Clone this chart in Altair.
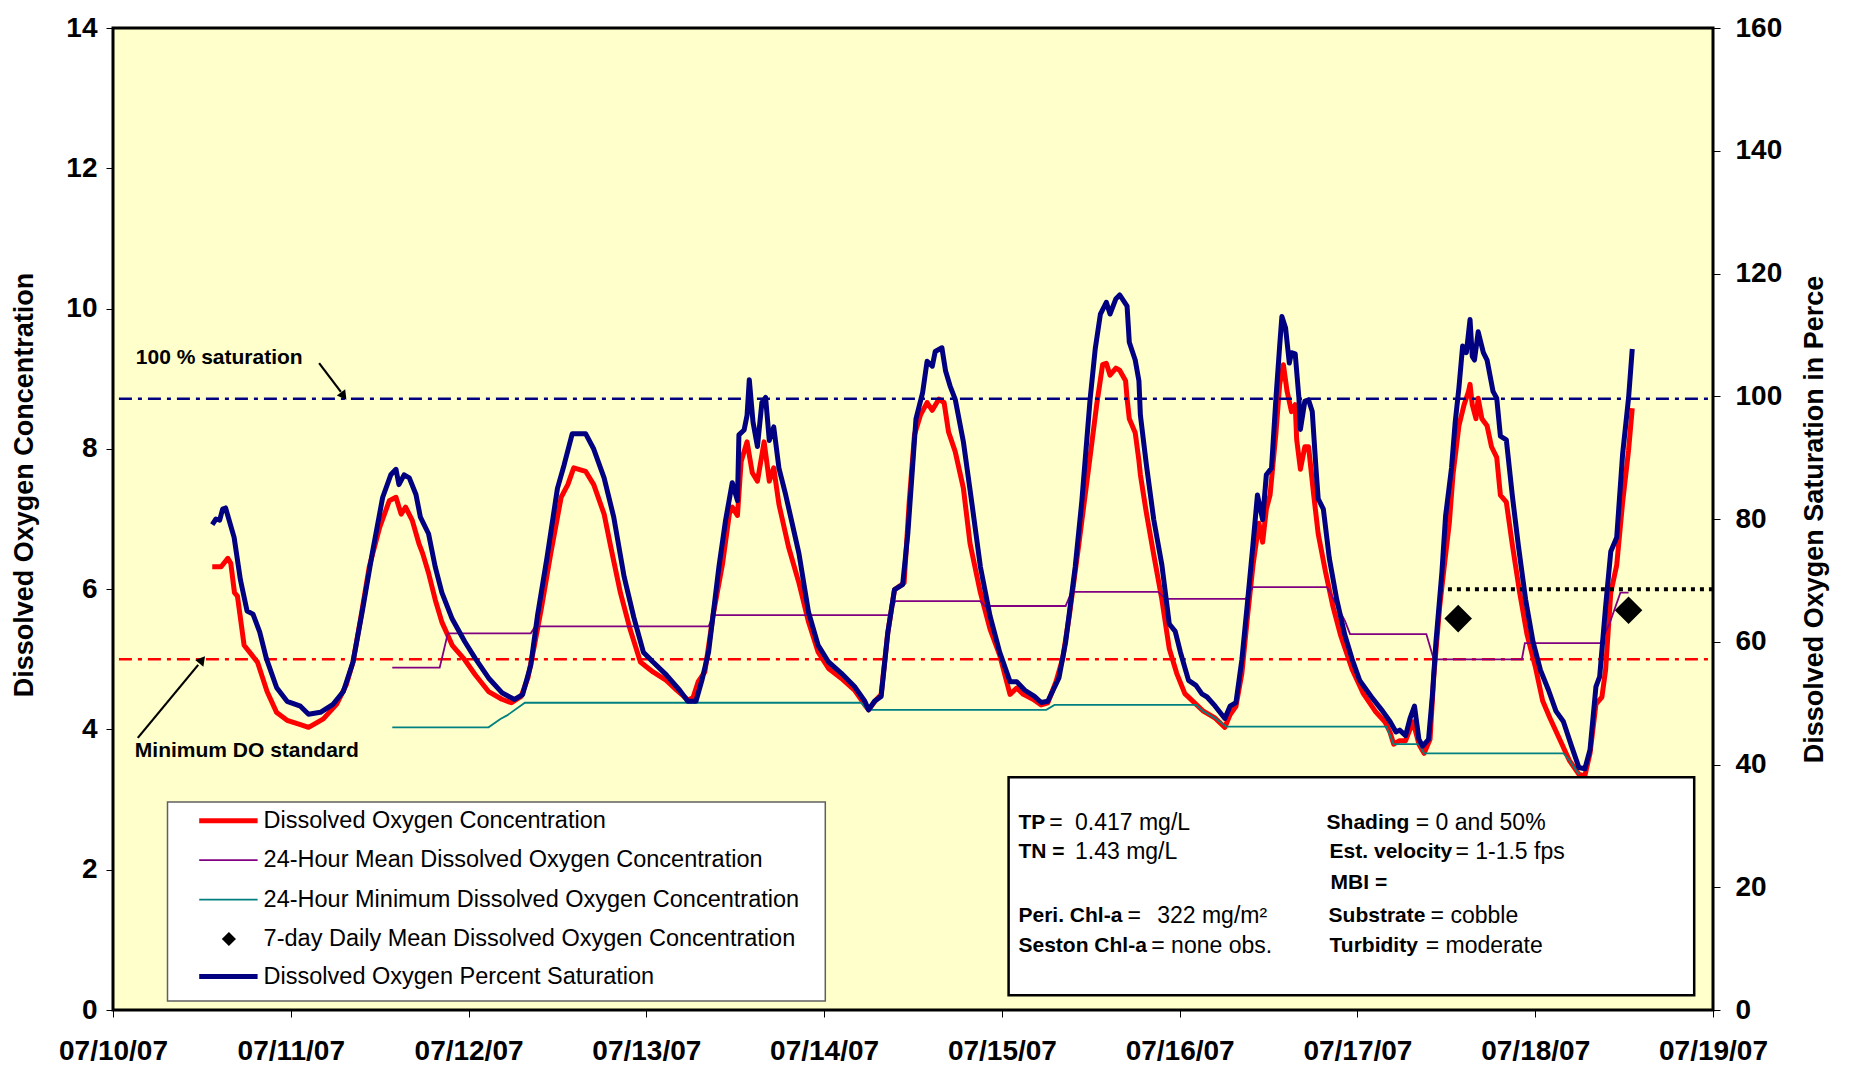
import altair as alt
import pandas as pd

# ---------------- data ----------------
# (hours after 07/10/07 00:00, dissolved oxygen mg/L)
do_conc = [
    (13.4, 6.32), (14.6, 6.32), (15.5, 6.44), (15.9, 6.37), (16.4, 5.95), (16.8, 5.9),
    (17.7, 5.2), (18.6, 5.08), (19.5, 4.96), (20.8, 4.54), (22.1, 4.24), (23.5, 4.13),
    (25.3, 4.07), (26.4, 4.03), (28.4, 4.15), (30.2, 4.36), (31.5, 4.64), (32.4, 4.96),
    (33.5, 5.62), (34.6, 6.32), (36.0, 6.88), (37.3, 7.26), (38.2, 7.31), (38.9, 7.07),
    (39.5, 7.17), (40.4, 6.98), (41.3, 6.65), (41.8, 6.51), (42.6, 6.23), (43.5, 5.85),
    (44.4, 5.53), (45.8, 5.2), (47.5, 4.99), (48.9, 4.78), (50.7, 4.54), (52.5, 4.43),
    (53.8, 4.38), (55.1, 4.47), (56.0, 4.73), (56.9, 5.2), (57.8, 5.71), (59.1, 6.51),
    (60.5, 7.31), (61.4, 7.49), (62.2, 7.73), (63.8, 7.68), (64.9, 7.49), (66.3, 7.07),
    (67.2, 6.6), (68.5, 5.95), (69.8, 5.43), (71.2, 4.96), (72.9, 4.82), (74.7, 4.70),
    (76.1, 4.56), (77.6, 4.42), (78.3, 4.45), (79.0, 4.68), (79.9, 4.82), (81.0, 5.62),
    (82.3, 6.37), (83.2, 7.07), (83.6, 7.17), (84.3, 7.05), (84.8, 7.82), (85.6, 8.1),
    (86.3, 7.66), (87.0, 7.54), (87.9, 8.1), (88.6, 7.54), (89.2, 7.73), (89.9, 7.21),
    (91.2, 6.6), (92.6, 6.09), (93.9, 5.53), (95.2, 5.1), (96.6, 4.87), (98.3, 4.73),
    (100.1, 4.56), (101.5, 4.35), (102.0, 4.28), (103.0, 4.42), (103.7, 4.5), (104.6, 5.38),
    (105.5, 5.99), (106.8, 6.09), (107.5, 7.26), (108.2, 8.2), (109.0, 8.48), (109.9, 8.66),
    (110.6, 8.55), (111.5, 8.71), (112.2, 8.66), (112.8, 8.24), (113.7, 7.96), (114.8, 7.44),
    (115.7, 6.65), (117.1, 5.95), (118.4, 5.43), (119.7, 5.06), (121.1, 4.5), (122.0, 4.59),
    (122.9, 4.5), (124.2, 4.43), (125.3, 4.35), (126.2, 4.38), (127.3, 4.68), (128.2, 5.01),
    (129.1, 5.62), (130.4, 6.65), (131.8, 7.8), (132.8, 8.63), (133.6, 9.2), (134.1, 9.22),
    (134.6, 9.05), (135.4, 9.15), (135.9, 9.12), (136.7, 8.97), (136.9, 8.72), (137.2, 8.43),
    (138.0, 8.23), (138.5, 7.83), (138.7, 7.63), (139.5, 7.09), (140.5, 6.49), (141.6, 5.85),
    (142.6, 5.15), (143.6, 4.8), (144.7, 4.51), (145.7, 4.41), (147.2, 4.26), (148.8, 4.16),
    (150.1, 4.03), (150.8, 4.21), (151.6, 4.33), (152.4, 4.8), (153.1, 5.55), (153.9, 6.34),
    (154.7, 6.94), (155.2, 6.67), (155.7, 7.14), (156.2, 7.34), (157.0, 8.23), (157.5, 8.92),
    (158.0, 9.2), (158.5, 8.82), (159.1, 8.53), (159.6, 8.63), (159.8, 8.13), (160.3, 7.71),
    (160.9, 8.03), (161.4, 8.03), (162.1, 7.34), (162.7, 6.79), (163.7, 6.24), (164.7, 5.75),
    (165.7, 5.35), (167.3, 4.85), (168.8, 4.51), (170.4, 4.26), (171.7, 4.11), (172.4, 3.96),
    (172.9, 3.79), (173.7, 3.84), (174.5, 3.84), (175.5, 4.11), (176.3, 3.79), (177.0, 3.66),
    (177.8, 3.86), (178.3, 4.75), (179.1, 5.75), (179.9, 6.49), (180.4, 6.94), (180.9, 7.63),
    (181.7, 8.33), (182.4, 8.63), (183.0, 8.82), (183.2, 8.92), (183.5, 8.63), (184.0, 8.43),
    (184.3, 8.72), (184.8, 8.43), (185.5, 8.33), (186.1, 8.03), (186.8, 7.88), (187.3, 7.34),
    (188.1, 7.24), (188.9, 6.64), (189.9, 5.95), (190.9, 5.35), (192.0, 4.9), (193.0, 4.41),
    (194.0, 4.16), (195.3, 3.86), (196.6, 3.56), (197.9, 3.36), (198.7, 3.34), (199.4, 3.66),
    (200.2, 4.36), (201.0, 4.46), (201.5, 4.85), (202.2, 5.95), (203.0, 6.34), (203.8, 7.24),
    (204.6, 7.98), (205.1, 8.58),
]

# (hours, dissolved oxygen percent saturation)
do_sat = [
    (13.4, 79.1), (13.9, 80.0), (14.4, 79.8), (14.8, 81.6), (15.2, 81.8), (16.35, 77.0),
    (17.2, 70.1), (18.1, 65.0), (18.9, 64.5), (19.8, 61.6), (20.7, 57.3), (22.1, 52.5),
    (23.5, 50.3), (25.3, 49.5), (26.4, 48.2), (28.0, 48.5), (29.7, 49.8), (31.1, 51.9),
    (32.4, 56.7), (33.7, 65.3), (35.0, 74.4), (36.4, 83.5), (37.5, 87.2), (38.2, 88.1),
    (38.6, 85.6), (39.3, 87.2), (40.0, 86.7), (40.9, 84.0), (41.5, 80.3), (42.6, 77.6),
    (43.5, 72.2), (44.4, 68.0), (45.8, 63.7), (47.5, 60.0), (48.9, 57.3), (50.7, 54.1),
    (52.5, 51.7), (54.2, 50.6), (55.3, 51.4), (56.4, 56.2), (57.3, 64.2), (58.6, 73.8),
    (60.0, 85.0), (60.9, 88.8), (62.0, 93.9), (63.8, 93.9), (64.9, 91.4), (66.3, 86.7),
    (67.6, 80.3), (69.0, 70.6), (70.3, 64.0), (71.6, 58.3), (72.9, 56.7), (74.7, 54.6),
    (76.5, 52.1), (77.6, 50.3), (78.7, 50.3), (79.5, 53.7), (80.4, 58.3), (81.8, 72.2),
    (82.7, 79.8), (83.6, 85.9), (84.3, 83.0), (84.5, 93.7), (85.2, 94.5), (85.6, 96.9),
    (85.9, 102.7), (86.4, 95.8), (87.0, 91.8), (87.6, 99.0), (88.1, 99.8), (88.6, 92.8),
    (89.2, 95.0), (89.9, 88.3), (90.8, 84.0), (91.7, 79.2), (92.6, 74.4), (93.9, 64.8),
    (95.2, 59.4), (96.6, 56.7), (98.3, 54.9), (100.1, 52.7), (101.5, 50.3), (102.0, 48.9),
    (102.8, 50.3), (103.7, 51.1), (104.6, 61.5), (105.5, 68.5), (106.6, 69.3), (107.3, 77.6),
    (108.4, 96.3), (109.3, 100.6), (109.9, 105.7), (110.6, 104.9), (111.0, 107.3), (111.9, 107.9),
    (112.4, 104.1), (113.0, 101.7), (113.7, 99.5), (114.8, 92.6), (115.9, 83.0), (117.1, 72.2),
    (118.4, 64.2), (119.7, 58.3), (121.1, 53.5), (122.0, 53.5), (123.1, 52.1), (124.4, 51.1),
    (125.3, 50.1), (126.2, 50.3), (127.7, 54.1), (128.6, 59.9), (129.9, 72.2), (130.8, 83.0),
    (131.9, 99.4), (132.6, 107.7), (133.3, 113.4), (134.1, 115.3), (134.6, 113.4), (135.4, 115.9),
    (135.9, 116.5), (136.9, 114.7), (137.2, 108.8), (138.0, 105.9), (138.5, 102.5), (138.7, 96.9),
    (139.5, 88.9), (140.5, 79.9), (141.6, 72.5), (142.6, 62.9), (143.4, 61.7), (144.1, 58.3),
    (145.2, 53.7), (146.2, 52.9), (147.0, 51.5), (147.7, 51.0), (148.8, 49.5), (150.1, 47.5),
    (150.8, 49.5), (151.6, 50.1), (152.4, 57.1), (153.1, 65.7), (153.9, 75.9), (154.5, 83.9),
    (155.2, 79.9), (155.7, 87.2), (156.4, 88.3), (157.0, 99.7), (157.5, 108.2), (157.8, 113.0),
    (158.3, 111.1), (158.8, 105.4), (159.1, 107.1), (159.6, 106.9), (160.1, 99.7), (160.3, 94.6),
    (160.9, 99.2), (161.4, 99.4), (161.9, 97.5), (162.4, 88.3), (162.7, 83.3), (163.4, 81.6),
    (164.2, 73.6), (165.2, 66.9), (166.3, 61.1), (167.3, 57.1), (168.3, 53.7), (169.9, 51.0),
    (171.4, 48.7), (172.4, 47.0), (173.2, 45.3), (173.7, 45.6), (174.5, 44.7), (175.1, 47.5),
    (175.7, 49.5), (176.3, 44.1), (176.8, 43.0), (177.6, 44.1), (178.1, 51.0), (178.6, 60.0),
    (179.4, 71.3), (179.9, 80.5), (180.7, 88.3), (181.2, 95.8), (181.7, 101.4), (182.2, 108.2),
    (182.7, 107.1), (183.2, 112.5), (183.5, 106.5), (183.8, 105.9), (184.3, 110.5), (185.0, 107.1),
    (185.5, 105.9), (186.3, 100.8), (186.8, 99.7), (187.3, 93.5), (188.1, 92.9), (188.9, 83.9),
    (189.7, 75.9), (190.7, 66.9), (191.7, 60.0), (192.7, 55.4), (193.8, 52.1), (194.8, 48.7),
    (195.8, 47.0), (196.9, 43.0), (197.9, 39.5), (198.7, 39.3), (199.4, 42.4), (200.2, 52.7),
    (200.7, 54.3), (201.5, 65.7), (202.2, 74.7), (203.0, 77.0), (203.8, 90.6), (204.6, 99.7),
    (205.1, 107.7),
]

# 24-hour mean DO (mg/L)
mean_24h = [
    (37.7, 4.88), (44.1, 4.88), (44.6, 5.1), (45.2, 5.37), (56.4, 5.37), (57.0, 5.47),
    (80.4, 5.47), (81.1, 5.63), (104.8, 5.63), (105.6, 5.83), (117.1, 5.83), (117.7, 5.76),
    (128.6, 5.76), (129.4, 5.96), (141.1, 5.96), (142.1, 5.86), (152.9, 5.86), (153.9, 6.03),
    (163.9, 6.03), (166.3, 5.55), (167.0, 5.36), (177.3, 5.36), (178.3, 5.0), (190.2, 5.0),
    (190.6, 5.23), (200.8, 5.23), (202.0, 5.5), (203.5, 5.95), (204.6, 5.95),
]

# 24-hour minimum DO (mg/L)
min_24h = [
    (37.7, 4.03), (50.7, 4.03), (52.3, 4.15), (53.2, 4.2), (55.6, 4.38), (101.0, 4.38),
    (101.8, 4.28), (126.0, 4.28), (127.1, 4.35), (146.2, 4.35), (147.2, 4.26), (148.8, 4.16),
    (150.3, 4.04), (171.9, 4.04), (172.9, 3.79), (176.3, 3.79), (177.0, 3.66), (195.8, 3.66),
    (196.6, 3.56), (197.9, 3.36),
]

# 7-day daily mean DO (mg/L)
weekly_mean = [(181.6, 5.58), (204.6, 5.70)]
weekly_ref = [(179.0, 216.0, 6.0)]          # dotted level line
standard_line = [(0.8, 216.0, 5.0)]         # minimum DO standard (mg/L)
saturation_line = [(0.8, 216.0, 99.6)]      # 100 % saturation

day_ticks = list(range(10, 20))
left_ticks = list(range(0, 15, 2))
right_ticks = list(range(0, 161, 20))

legend_labels = [
    "Dissolved Oxygen Concentration",
    "24-Hour Mean Dissolved Oxygen Concentration",
    "24-Hour Minimum Dissolved Oxygen Concentration",
    "7-day Daily Mean Dissolved Oxygen Concentration",
    "Dissolved Oxygen Percent Saturation",
]

# ---------------- helpers ----------------
BASE = pd.Timestamp("2007-07-10")


def ts(h):
    return (BASE + pd.Timedelta(hours=h)).strftime("%Y-%m-%dT%H:%M:%S")


def series_df(pairs):
    return pd.DataFrame({"t": [ts(h) for h, _ in pairs], "v": [v for _, v in pairs]})


def span_df(rows):
    return pd.DataFrame({"t": [ts(a) for a, _, _ in rows],
                         "t2": [ts(b) for _, b, _ in rows],
                         "v": [v for _, _, v in rows]})


FONT = "Liberation Sans, Arial, Helvetica, sans-serif"
RED, NAVY, PURPLE, TEAL = "#FF0000", "#000080", "#800080", "#008080"

W, H = 1600, 982
OX, OY, OW, OH = 116, 20, 1615, 996   # plot area in the reference picture


def sx(ox):
    return round((ox - OX) * W / OW, 1)


def sy(oy):
    return round((oy - OY) * H / OH, 1)


ONE = pd.DataFrame({"a": [0]})

xscale = alt.Scale(domain=[alt.DateTime(year=2007, month=7, date=10),
                           alt.DateTime(year=2007, month=7, date=19)])
xaxis = alt.Axis(values=[alt.DateTime(year=2007, month=7, date=d) for d in day_ticks],
                 format="%m/%d/%y", title=None, labelFont=FONT, labelFontSize=28,
                 labelFontWeight="bold", labelColor="black", tickColor="black",
                 tickSize=7, tickWidth=1, labelPadding=20, domain=False, grid=False,
                 labelFlush=False, labelOverlap=False)
X = alt.X("t:T", scale=xscale, axis=xaxis)

yl_scale = alt.Scale(domain=[0, 14], nice=False, zero=True)
yl_axis = alt.Axis(values=left_ticks, orient="left", title="Dissolved Oxygen Concentration",
                   titleFont=FONT, titleFontSize=27, titleFontWeight="bold", titleColor="black",
                   titlePadding=27, titleY=sy(483), labelFont=FONT, labelFontSize=28,
                   labelFontWeight="bold", labelColor="black", labelPadding=9, tickSize=7,
                   tickColor="black", domain=False, grid=False)
YL = alt.Y("v:Q", scale=yl_scale, axis=yl_axis)

yr_scale = alt.Scale(domain=[0, 160], nice=False, zero=True)
yr_axis = alt.Axis(values=right_ticks, orient="right",
                   title="Dissolved Oxygen Saturation in Perce",
                   titleFont=FONT, titleFontSize=27, titleFontWeight="bold", titleColor="black",
                   titleAngle=270, titleBaseline="top", titlePadding=20,
                   labelFont=FONT, labelFontSize=28, labelFontWeight="bold", labelColor="black",
                   labelPadding=15, tickSize=7, tickColor="black", domain=False, grid=False)
YR = alt.Y("v:Q", scale=yr_scale, axis=yr_axis)

DASHDOT = [13, 6, 4, 6]

# ---------------- left-axis layers ----------------
std_rule = alt.Chart(span_df(standard_line)).mark_rule(
    color=RED, strokeWidth=2.5, strokeDash=DASHDOT).encode(x=X, x2="t2:T", y=YL)
red_line = alt.Chart(series_df(do_conc)).mark_line(
    color=RED, strokeWidth=5, strokeJoin="round").encode(x=X, y=YL)
mean_line = alt.Chart(series_df(mean_24h)).mark_line(
    color=PURPLE, strokeWidth=1.8).encode(x=X, y=YL)
min_line = alt.Chart(series_df(min_24h)).mark_line(
    color=TEAL, strokeWidth=1.8).encode(x=X, y=YL)
diamonds = alt.Chart(series_df(weekly_mean)).mark_point(
    shape="diamond", filled=True, color="black", opacity=1, size=760).encode(x=X, y=YL)
dotted = alt.Chart(span_df(weekly_ref)).mark_rule(
    color="black", strokeWidth=4, strokeDash=[4, 5]).encode(x=X, x2="t2:T", y=YL)

left_group = alt.layer(std_rule, red_line, mean_line, min_line, diamonds, dotted)

# ---------------- right-axis layers ----------------
sat_rule = alt.Chart(span_df(saturation_line)).mark_rule(
    color=NAVY, strokeWidth=2.5, strokeDash=DASHDOT).encode(x=X, x2="t2:T", y=YR)
blue_line = alt.Chart(series_df(do_sat)).mark_line(
    color=NAVY, strokeWidth=5, strokeJoin="round").encode(x=X, y=YR)

right_group = alt.layer(sat_rule, blue_line)

# ---------------- annotations ----------------
annots = []


def text(t, ox, oy, size=22, weight="normal", align="left"):
    annots.append(alt.Chart(ONE).mark_text(
        text=t, font=FONT, fontSize=size, fontWeight=weight, align=align,
        baseline="middle", color="black").encode(x=alt.value(sx(ox)), y=alt.value(sy(oy))))


def seg(ox1, oy1, ox2, oy2, color="black", width=2.0):
    annots.append(alt.Chart(ONE).mark_rule(color=color, strokeWidth=width).encode(
        x=alt.value(sx(ox1)), y=alt.value(sy(oy1)), x2=alt.value(sx(ox2)), y2=alt.value(sy(oy2))))


def head(ox, oy, angle, size=110):
    annots.append(alt.Chart(ONE).mark_point(
        shape="triangle", filled=True, color="black", opacity=1, size=size, angle=angle).encode(
        x=alt.value(sx(ox)), y=alt.value(sy(oy))))


def box(ox1, oy1, ox2, oy2, stroke, width):
    annots.append(alt.Chart(ONE).mark_rect(
        fill="white", stroke=stroke, strokeWidth=width).encode(
        x=alt.value(sx(ox1)), y=alt.value(sy(oy1)), x2=alt.value(sx(ox2)), y2=alt.value(sy(oy2))))


# reference-line labels and arrows
text("100 % saturation", 139, 355, size=21, weight="bold")
seg(324, 360, 346, 389, width=2.2)
head(348, 392, 143)
text("Minimum DO standard", 138, 753, size=21, weight="bold")
seg(141, 740, 202, 666, width=2.2)
head(205, 662, 39)

# legend box
box(171, 805, 835, 1007, "#606060", 1.5)
rows = [824, 864, 904, 944, 982]
seg(203, rows[0], 262, rows[0], RED, 5)
seg(203, rows[1], 262, rows[1], PURPLE, 1.8)
seg(203, rows[2], 262, rows[2], TEAL, 1.8)
annots.append(alt.Chart(ONE).mark_point(
    shape="diamond", filled=True, color="black", opacity=1, size=200).encode(
    x=alt.value(sx(233)), y=alt.value(sy(rows[3]))))
seg(203, rows[4], 262, rows[4], NAVY, 5)
for lab, ry in zip(legend_labels, rows):
    text(lab, 268, ry, size=23.5)

# site information box
box(1020, 780, 1712, 1001, "black", 2.5)
text("TP", 1030, 826, 21, "bold")
text("=", 1061, 826, 23)
text("0.417 mg/L", 1087, 826, 23)
text("TN =", 1030, 856, 21, "bold")
text("1.43 mg/L", 1087, 856, 23)
text("Peri. Chl-a", 1030, 921, 21, "bold")
text("=", 1140, 921, 23)
text("322 mg/m²", 1170, 921, 23)
text("Seston Chl-a", 1030, 951, 21, "bold")
text("= none obs.", 1164, 951, 23)
text("Shading", 1341, 826, 21, "bold")
text("= 0 and 50%", 1431, 826, 23)
text("Est. velocity", 1344, 856, 21, "bold")
text("= 1-1.5 fps", 1471, 856, 23)
text("MBI =", 1345, 887, 21, "bold")
text("Substrate", 1343, 921, 21, "bold")
text("= cobble", 1446, 921, 23)
text("Turbidity", 1344, 951, 21, "bold")
text("= moderate", 1441, 951, 23)

chart = alt.layer(left_group, right_group, *annots).resolve_scale(
    y="independent"
).properties(
    width=W, height=H, background="white",
    padding={"left": 2, "top": 6, "right": 2, "bottom": 0},
).configure_view(
    fill="#FFFFCC", stroke="black", strokeWidth=3
)

chart.save("out.html", embed_options={"renderer": "svg", "actions": False})
